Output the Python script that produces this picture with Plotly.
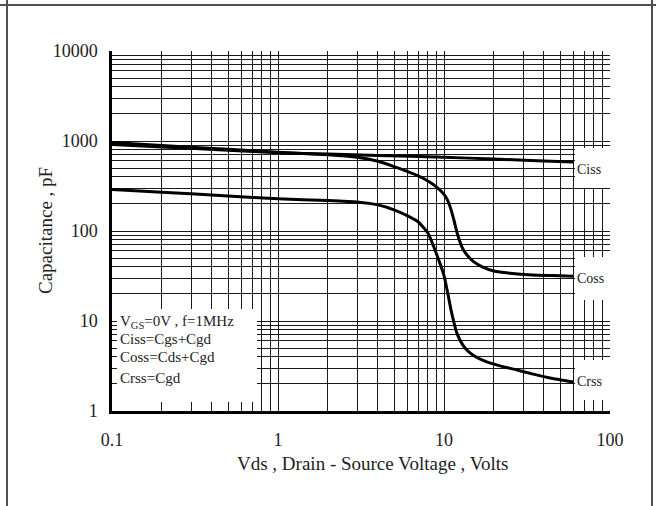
import plotly.graph_objects as go

# ---- data ----
vds_ciss = [0.1, 0.2, 0.5, 1, 2, 4, 10, 20, 40, 60]
ciss = [915, 860, 790, 740, 715, 690, 660, 630, 600, 585]

vds_coss = [0.1, 0.2, 0.5, 1, 2, 3, 4, 5, 6, 7, 8, 9, 10, 10.5, 11, 11.5, 12, 12.5, 13, 14, 15, 17, 20, 25, 34, 45, 60]
coss = [960, 890, 810, 750, 705, 660, 595, 520, 460, 410, 360, 310, 255, 220, 175, 130, 95, 75, 63, 52, 46, 40, 36, 34, 32.5, 32, 31.5]

vds_crss = [0.1, 0.2, 0.5, 1, 2, 3, 4, 5, 6, 7, 8, 9, 10, 10.5, 11, 11.5, 12, 13, 14, 15.5, 17.5, 22, 27.5, 35, 43.6, 60]
crss = [290, 270, 245, 228, 218, 210, 195, 172, 148, 126, 95, 56, 32, 21, 13.5, 9.5, 7.2, 5.4, 4.6, 4.0, 3.6, 3.15, 2.86, 2.55, 2.33, 2.1]

x_grid = [m * 10 ** e for e in (-1, 0, 1) for m in range(1, 10)] + [100]
x_labels = {0.1: "0.1", 1: "1", 10: "10", 100: "100"}
y_grid = [m * 10 ** e for e in (0, 1, 2, 3) for m in range(1, 10)] + [10000]
y_labels = {1: "1", 10: "10", 100: "100", 1000: "1000", 10000: "10000"}

curve_names = ["Ciss", "Coss", "Crss"]
legend_lines = ["V<sub>GS</sub>=0V , f=1MHz", "Ciss=Cgs+Cgd", "Coss=Cds+Cgd", "Crss=Cgd"]

x_title = "Vds , Drain - Source Voltage , Volts"
y_title = "Capacitance , pF"

# ---- figure ----
W, H = 656, 506
L, R, T, B = 112, 46, 51, 95
pw, ph = W - L - R, H - T - B


def px(x):
    return (x - L) / pw


def py(y):
    return (H - B - y) / ph


FONT = "Liberation Serif, Times New Roman, serif"
fig = go.Figure()
for xs, ys, name in [(vds_ciss, ciss, "Ciss"), (vds_coss, coss, "Coss"), (vds_crss, crss, "Crss")]:
    fig.add_trace(go.Scatter(x=xs, y=ys, mode="lines", name=name,
                             line=dict(color="black", width=3, shape="spline", smoothing=0.5),
                             showlegend=False))

shapes = []
# white boxes covering grid
for (x0, x1, y0, y1) in [(117, 257, 309, 402), (575, 612, 148, 188), (575, 612, 257, 300), (575, 612, 360, 400)]:
    shapes.append(dict(type="rect", xref="paper", yref="paper", x0=px(x0), x1=px(x1), y0=py(y1), y1=py(y0),
                       fillcolor="white", line=dict(width=0), layer="above"))
# frame lines
fc = "#505050"
shapes.append(dict(type="line", xref="paper", yref="paper", x0=px(7), x1=px(7), y0=py(H + 2), y1=py(-2), line=dict(color=fc, width=2)))
shapes.append(dict(type="line", xref="paper", yref="paper", x0=px(652), x1=px(652), y0=py(H + 2), y1=py(-2), line=dict(color=fc, width=2)))
shapes.append(dict(type="line", xref="paper", yref="paper", x0=px(-2), x1=px(W + 2), y0=py(5), y1=py(5), line=dict(color=fc, width=2)))

annotations = []
label_y = [169, 278, 381]
for name, yy in zip(curve_names, label_y):
    annotations.append(dict(x=px(575), y=py(yy), xref="paper", yref="paper", text=name,
                            showarrow=False, xanchor="left", yanchor="middle",
                            font=dict(family=FONT, size=14, color="#222")))
leg_y = [322, 339, 357, 378]
for t, yy in zip(legend_lines, leg_y):
    annotations.append(dict(x=px(118), y=py(yy), xref="paper", yref="paper", text=t, showarrow=False,
                            xanchor="left", yanchor="middle", font=dict(family=FONT, size=15, color="#222")))
annotations.append(dict(x=px(372), y=py(463), xref="paper", yref="paper", text=x_title, showarrow=False,
                        xanchor="center", yanchor="middle", font=dict(family=FONT, size=19, color="#222")))
annotations.append(dict(x=px(45), y=py(231), xref="paper", yref="paper", text=y_title, showarrow=False,
                        textangle=-90, xanchor="center", yanchor="middle",
                        font=dict(family=FONT, size=19, color="#222")))

fig.update_layout(
    width=W, height=H,
    margin=dict(l=L, r=R, t=T, b=B),
    paper_bgcolor="white", plot_bgcolor="white",
    font=dict(family=FONT, size=18, color="#222"),
    shapes=shapes, annotations=annotations,
    xaxis=dict(type="log", range=[-1, 2], tickmode="array", tickvals=x_grid,
               ticktext=[x_labels.get(v, "") for v in x_grid],
               showgrid=True, gridcolor="#1a1a1a", gridwidth=1.3,
               showline=True, linecolor="black", linewidth=2.5,
               ticks="", ticklabelstandoff=11, zeroline=False),
    yaxis=dict(type="log", range=[0, 4], tickmode="array", tickvals=y_grid,
               ticktext=[y_labels.get(v, "") for v in y_grid],
               showgrid=True, gridcolor="#1a1a1a", gridwidth=1.3,
               showline=True, linecolor="black", linewidth=2.5,
               ticks="", ticklabelstandoff=8, zeroline=False),
)

fig.write_html("out.html", config={"displayModeBar": False},
               post_script="document.body.style.margin='0px';document.body.style.overflow='hidden';")
